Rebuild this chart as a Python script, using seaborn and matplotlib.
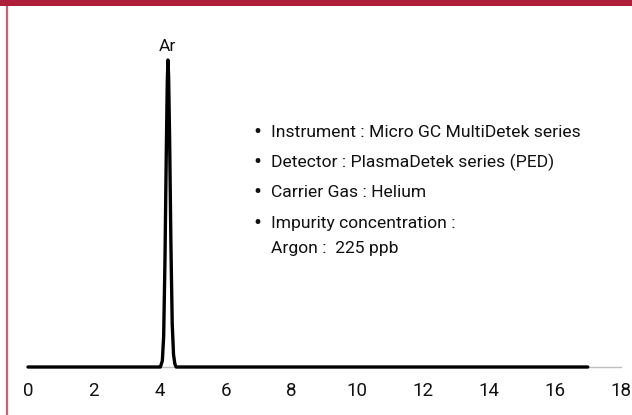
import matplotlib
matplotlib.use("Agg")
import matplotlib.pyplot as plt
import seaborn as sns
import pandas as pd
from matplotlib.patches import Rectangle
from matplotlib.lines import Line2D

# Data (chromatogram trace)
time_min = [0.0, 4.02, 4.08, 4.12, 4.16, 4.20, 4.23, 4.25, 4.27, 4.30, 4.34, 4.38, 4.42, 4.46, 4.50, 17.0]
signal = [0.0, 0.0, 0.02, 0.10, 0.35, 0.70, 0.93, 1.0, 0.95, 0.75, 0.40, 0.14, 0.04, 0.01, 0.0, 0.0]
peak_label = "Ar"
peak_time = 4.25
xticks = [0, 2, 4, 6, 8, 10, 12, 14, 16, 18]
info_lines = [
    "Instrument : Micro GC MultiDetek series",
    "Detector : PlasmaDetek series (PED)",
    "Carrier Gas : Helium",
    "Impurity concentration :",
]
info_extra = "Argon :  225 ppb"

sns.set_theme(style="white")
plt.rcParams["font.family"] = ["Roboto", "DejaVu Sans"]

W, H = 632, 415
fig = plt.figure(figsize=(W / 100, H / 100), dpi=100)

x0_px, x1_px = 28, 620.7
y_base_px, y_top_px = 367, 60
ax = fig.add_axes([x0_px / W, (H - y_base_px) / H, (x1_px - x0_px) / W, (y_base_px - y_top_px) / H])

df = pd.DataFrame({"time": time_min, "signal": signal})
sns.lineplot(data=df, x="time", y="signal", ax=ax, color="black", linewidth=2.4, clip_on=False,
             sort=False, estimator=None)

ax.set_xlim(0, 18)
ax.set_ylim(0, 1)
ax.set_xticks(xticks)
ax.set_xticklabels([str(t) for t in xticks], fontsize=13.5, color="#111111")
ax.set_yticks([])
ax.set_xlabel("")
ax.set_ylabel("")
for s in ["top", "right", "left"]:
    ax.spines[s].set_visible(False)
ax.spines["bottom"].set_color("#BFBFBF")
ax.spines["bottom"].set_linewidth(1.0)
ax.spines["bottom"].set_zorder(0)
ax.tick_params(axis="x", direction="out", length=4, width=1, color="#BFBFBF", pad=7)
ax.patch.set_alpha(0)

ax.annotate(peak_label, xy=(peak_time, 1), xytext=(0, 10), textcoords="offset points",
            ha="center", va="center", fontsize=12.5, color="#111111")

# Info text block (figure pixel coordinates)
ys = [132, 162, 192, 223]
for y, t in zip(ys, info_lines):
    fig.text(257 / W, 1 - y / H, "•", ha="center", va="center", fontsize=17, color="#111111")
    fig.text(271 / W, 1 - y / H, t, ha="left", va="center", fontsize=12.6, color="#111111")
fig.text(271 / W, 1 - 248 / H, info_extra, ha="left", va="center", fontsize=12.6, color="#111111")

# Decorative frame: red bar on top, pink line on left
fig.patches.append(Rectangle((0, 1 - 6 / H), 1, 6 / H, transform=fig.transFigure,
                             facecolor="#AE1E3A", edgecolor="none", zorder=5))
fig.lines.append(Line2D([6.5 / W, 6.5 / W], [0, 1 - 6 / H], transform=fig.transFigure,
                        color="#C8607A", linewidth=1.6, zorder=5))

fig.savefig("out.png", dpi=100, facecolor="white")
